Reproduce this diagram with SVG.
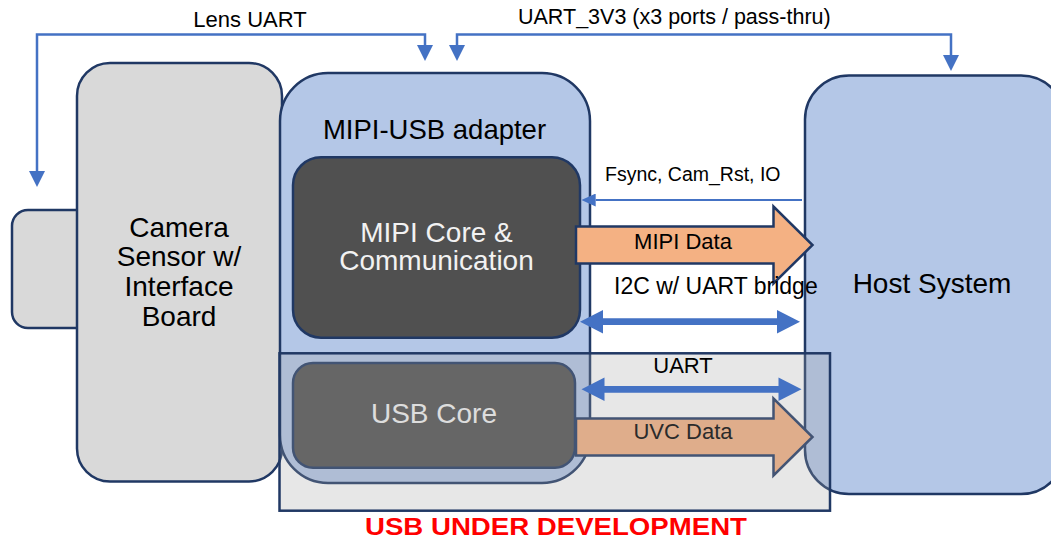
<svg xmlns="http://www.w3.org/2000/svg" width="1051" height="542" viewBox="0 0 1051 542">
  <style>
    text { font-family: "Liberation Sans", Arial, sans-serif; fill: #000; }
    .box { stroke: #203864; stroke-width: 2.5; }
    .gray { fill: #d9d9d9; }
    .blue { fill: #b4c7e7; }
    .core { fill: #505050; }
    .big { font-size: 28px; text-anchor: middle; }
    .light { fill: #f2f2f2; }
    .wire { fill: none; stroke: #4472c4; stroke-width: 2.5; }
    .thin { fill: none; stroke: #4472c4; stroke-width: 2; }
    .dbl { fill: #4472c4; }
    .data { fill: #f4b183; stroke: #203864; stroke-width: 2.5; stroke-linejoin: miter; }
    .data.dim { fill: #dfad8b; stroke: #435474; }
    .lbl { font-size: 22px; text-anchor: middle; }
    .lbl.dim { fill: #2b2b2b; }
  </style>
  <defs>
    <marker id="head" viewBox="0 -8 16 16" refX="0" refY="0" markerWidth="16" markerHeight="16" markerUnits="userSpaceOnUse" orient="auto-start-reverse">
      <path d="M0,-8 L16,0 L0,8 Z" fill="#4472c4"/>
    </marker>
    <marker id="head-sm" viewBox="0 -6.5 14 13" refX="0" refY="0" markerWidth="14" markerHeight="13" markerUnits="userSpaceOnUse" orient="auto">
      <path d="M0,-6.5 L14,0 L0,6.5 Z" fill="#4472c4"/>
    </marker>
    <!-- wide two-headed bus arrow, 220 long, centred on y=0 -->
    <path id="bus" d="M0,0 L23,-11.7 V-3.4 H197 V-11.7 L220,0 L197,11.7 V3.4 H23 V11.7 Z"/>
    <!-- block data arrow, centred on y=0 -->
    <path id="flow" d="M0,-18.5 H197.5 V-38.5 L236.5,0 L197.5,38.5 V18.5 H0 Z"/>
  </defs>

  <!-- camera sensor with its lens tab -->
  <g id="camera">
    <rect class="box gray" x="12" y="210" width="90" height="118" rx="16"/>
    <rect class="box gray" x="77" y="63" width="205" height="418.5" rx="33"/>
    <text class="big" x="179" y="236.5">Camera</text>
    <text class="big" x="179" y="266">Sensor w/</text>
    <text class="big" x="179" y="295.5">Interface</text>
    <text class="big" x="179" y="325.5">Board</text>
  </g>

  <!-- adapter board -->
  <g id="adapter">
    <rect class="box blue" x="280" y="73" width="310" height="410" rx="48"/>
    <text x="434.5" y="139" font-size="27.5" text-anchor="middle">MIPI-USB adapter</text>
  </g>

  <g id="mipi-core">
    <rect class="box core" x="293" y="157.3" width="287" height="180.4" rx="28"/>
    <text class="big light" x="436.5" y="241.5">MIPI Core &amp;</text>
    <text class="big light" x="436.5" y="270">Communication</text>
  </g>

  <g id="usb-core">
    <rect class="box core" x="293" y="363" width="282" height="104.7" rx="20"/>
    <text class="big light" x="434" y="422.5">USB Core</text>
  </g>

  <g id="host">
    <rect class="box blue" x="805" y="75.5" width="260" height="418.5" rx="44"/>
    <text class="big" x="932" y="292.5">Host System</text>
  </g>

  <!-- shaded zone for the USB path still in progress -->
  <g id="usb-dev-zone">
    <rect x="279.5" y="353.3" width="550.5" height="157.4" fill="#a3a3a3" fill-opacity="0.263" stroke="#203864" stroke-width="2.5"/>
    <text x="365" y="535" font-size="24.5" font-weight="bold" textLength="382" lengthAdjust="spacingAndGlyphs" style="fill:#ff0000">USB UNDER DEVELOPMENT</text>
  </g>

  <!-- links between the boards -->
  <g id="connectors">
    <path class="wire" d="M37,171 V34.5 H425 V45" marker-start="url(#head)" marker-end="url(#head)"/>
    <text x="250" y="26.5" font-size="22" text-anchor="middle">Lens UART</text>

    <path class="wire" d="M457,45 V34.5 H951 V55" marker-start="url(#head)" marker-end="url(#head)"/>
    <text x="518" y="24" font-size="21.5">UART_3V3 (x3 ports / pass-thru)</text>

    <path class="thin" d="M802,200 H595.7" marker-end="url(#head-sm)"/>
    <text x="605" y="181" font-size="19.5">Fsync, Cam_Rst, IO</text>

    <use href="#flow" class="data" transform="translate(576,245)"/>
    <text class="lbl" x="683" y="249.3">MIPI Data</text>

    <text x="614" y="294" font-size="23">I2C w/ UART bridge</text>
    <use href="#bus" class="dbl" transform="translate(580,321.7)"/>

    <text class="lbl" x="683" y="373.3">UART</text>
    <use href="#bus" class="dbl" transform="translate(581.5,389.3)"/>

    <use href="#flow" class="data dim" transform="translate(576,437)"/>
    <text class="lbl dim" x="683" y="439" font-size="22.5">UVC Data</text>
  </g>
</svg>
